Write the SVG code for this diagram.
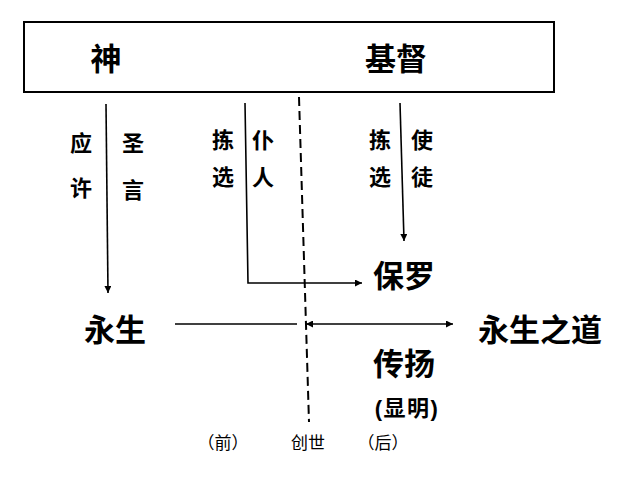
<svg xmlns="http://www.w3.org/2000/svg" width="622" height="478" viewBox="0 0 622 478">
<style>
text{font-family:"Noto Sans CJK SC","Noto Sans",sans-serif;fill:#000;text-anchor:middle}
.big{font-size:31px;font-weight:bold}
.lab{font-size:22px;font-weight:bold}
.par{font-size:22px;font-weight:bold}
.pp{font-family:"Liberation Sans",sans-serif}
.sm{font-size:17px}
.ln{stroke:#000;stroke-width:1.6;fill:none}
</style>
<defs>
<marker id="ah" viewBox="0 0 10 10" refX="10" refY="5" markerWidth="9" markerHeight="7" markerUnits="userSpaceOnUse" orient="auto-start-reverse">
<path d="M0,0 L10,5 L0,10 z" fill="#000"/>
</marker>
</defs>
<rect width="622" height="478" fill="#fff"/>
<g id="box">
<rect x="24" y="22" width="530" height="70" fill="#fff" stroke="#000" stroke-width="2"/>
<text class="big" x="106" y="70">神</text>
<text class="big" x="396" y="70">基督</text>
</g>
<g id="connectors">
<line class="ln" x1="106" y1="104" x2="108" y2="293" marker-end="url(#ah)"/>
<polyline class="ln" points="245,103 248,283 362,283" marker-end="url(#ah)"/>
<line class="ln" x1="400" y1="103" x2="404" y2="241" marker-end="url(#ah)"/>
<line class="ln" x1="175" y1="324" x2="297" y2="324"/>
<line class="ln" x1="306" y1="324" x2="453" y2="324" marker-start="url(#ah)" marker-end="url(#ah)"/>
<line x1="299" y1="97" x2="309" y2="422" stroke="#000" stroke-width="2" stroke-dasharray="9,5"/>
</g>
<g id="labels">
<text class="lab" x="81" y="151">应</text>
<text class="lab" x="81" y="196">许</text>
<text class="lab" x="133" y="151">圣</text>
<text class="lab" x="133" y="198">言</text>
<text class="lab" x="223" y="148">拣</text>
<text class="lab" x="223" y="185">选</text>
<text class="lab" x="263" y="148">仆</text>
<text class="lab" x="263" y="185">人</text>
<text class="lab" x="380" y="148">拣</text>
<text class="lab" x="380" y="185">选</text>
<text class="lab" x="422" y="148">使</text>
<text class="lab" x="422" y="185">徒</text>
</g>
<g id="paul"><text class="big" x="404" y="287">保罗</text></g>
<g id="eternal-life"><text class="big" x="115" y="341">永生</text></g>
<g id="way"><text class="big" x="540" y="341">永生之道</text></g>
<g id="spread">
<text class="big" x="404" y="375">传扬</text>
<text class="par" x="407" y="416" letter-spacing="1.5"><tspan class="pp">(</tspan>显明<tspan class="pp">)</tspan></text>
</g>
<g id="timeline">
<text class="sm" x="223" y="449">（前）</text>
<text class="sm" x="308" y="449">创世</text>
<text class="sm" x="383" y="449">（后）</text>
</g>
</svg>
